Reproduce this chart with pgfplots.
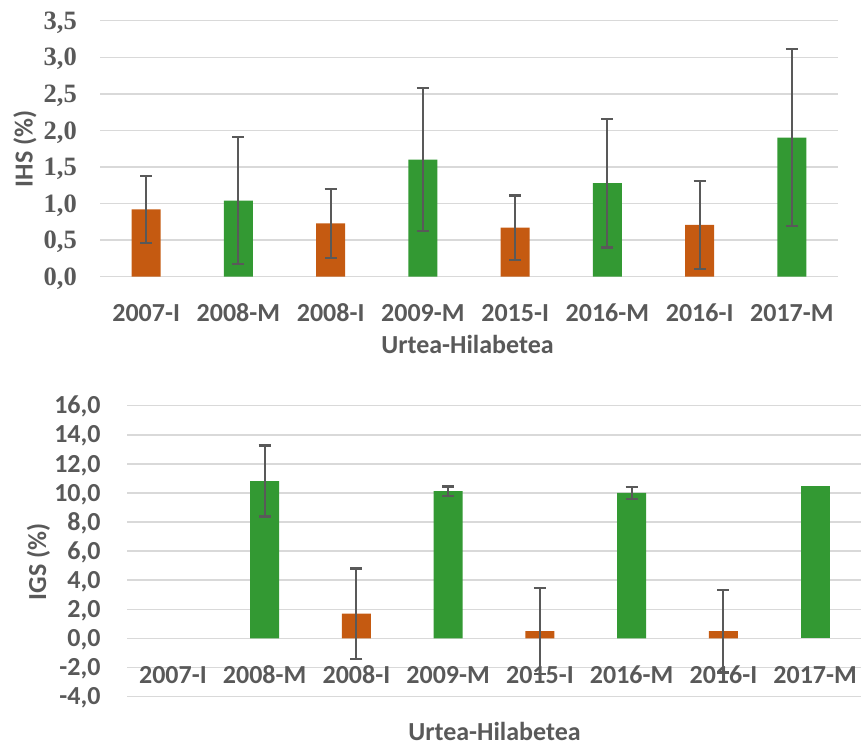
\documentclass[border=0pt]{standalone}
\usepackage{fontspec}
\setmainfont{Carlito}
\newfontfamily\timesf{Liberation Serif}
\usepackage{pgfplots}
\pgfplotsset{compat=1.18}
\definecolor{txt}{HTML}{595959}
\definecolor{gridc}{HTML}{D9D9D9}
\definecolor{orng}{HTML}{C55A11}
\definecolor{grn}{HTML}{339933}
\newcommand\lbl{\fontsize{26}{30}\selectfont\bfseries}
\newcommand\lbls{\fontsize{26.5}{30}\selectfont\timesf\bfseries}

\pgfplotsset{
 mybar/.style={
  scale only axis, anchor=south west,
  xmin=-0.5, xmax=7.5,
  xtick={0,1,2,3,4,5,6,7},
  xticklabels={2007-I,2008-M,2008-I,2009-M,2015-I,2016-M,2016-I,2017-M},
  ymajorgrids, grid style={gridc, line width=1.5pt},
  axis line style={draw=none},
  major tick length=0pt,
  tick style={draw=none},
  ybar, bar width=29pt, bar shift=0pt,
  xticklabel style={font=\lbl, text=txt, anchor=center, inner sep=0pt},
  label style={font=\lbl, text=txt},
  xlabel={Urtea-Hilabetea},
  /pgf/number format/use comma,
  /pgf/number format/fixed,
  /pgf/number format/fixed zerofill,
  /pgf/number format/precision=1,
  /pgf/number format/assume math mode=true,
 },
 errs/.style={
  error bars/y dir=both, error bars/y explicit,
  error bars/error bar style={txt, line width=2.2pt},
  error bars/error mark options={rotate=90, mark size=6pt, line width=2.2pt, txt}},
}

\pgfplotstableread{
x y e
0 0.92 0.46
2 0.73 0.47
4 0.67 0.44
6 0.71 0.60
}\ihsI
\pgfplotstableread{
x y e
1 1.04 0.87
3 1.60 0.98
5 1.28 0.88
7 1.90 1.21
}\ihsM
\pgfplotstableread{
x y e
2 1.70 3.10
4 0.50 2.95
6 0.50 2.85
}\igsI
\pgfplotstableread{
x y e
1 10.82 2.44
3 10.12 0.32
5 10.00 0.39
}\igsM
\pgfplotstableread{
x y
7 10.47
}\igsMb

\begin{document}
\begin{tikzpicture}[x=1pt,y=1pt]
\useasboundingbox (0,0) rectangle (861,747);
\begin{axis}[mybar,
  at={(100pt,470.3pt)}, width=738pt, height=256pt,
  ymin=0, ymax=3.5, ytick={0,0.5,1,1.5,2,2.5,3,3.5},
  yticklabel style={font=\lbls, text=txt, anchor=base east, inner sep=0pt, xshift=-23pt, yshift=-8.6pt},
  xticklabel style={yshift=-36.3pt},
  ylabel={IHS (\%)},
  ylabel style={at={(axis description cs:-0.1016,0.5)}, anchor=center},
  xlabel style={at={(axis description cs:0.498,-0.263)}, anchor=center},
]
\addplot[fill=orng, draw=none, errs] table[x=x, y=y, y error=e] {\ihsI};
\addplot[fill=grn, draw=none, errs] table[x=x, y=y, y error=e] {\ihsM};
\end{axis}
\begin{axis}[mybar,
  at={(127pt,50.5pt)}, width=734pt, height=290.8pt,
  ymin=-4, ymax=16, ytick={-4,-2,0,2,4,6,8,10,12,14,16},
  yticklabel style={font=\lbl, text=txt, anchor=base east, inner sep=0pt, xshift=-26.3pt, yshift=-8.2pt},
  xticklabel style={yshift=21.8pt},
  ylabel={IGS (\%)},
  ylabel style={at={(axis description cs:-0.1206,0.4635)}, anchor=center},
  xlabel style={at={(axis description cs:0.5007,-0.1186)}, anchor=center},
]
\addplot[fill=orng, draw=none, errs] table[x=x, y=y, y error=e] {\igsI};
\addplot[fill=grn, draw=none, errs] table[x=x, y=y, y error=e] {\igsM};
\addplot[fill=grn, draw=none] table[x=x, y=y] {\igsMb};
\end{axis}
\end{tikzpicture}
\end{document}
